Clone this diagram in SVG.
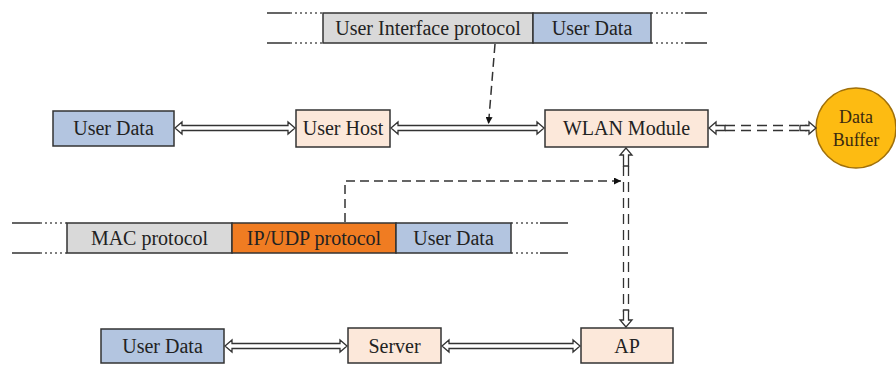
<svg xmlns="http://www.w3.org/2000/svg" width="896" height="365" viewBox="0 0 896 365">
  <defs>
    <style>
      .box { stroke: #333; stroke-width: 1.5; }
      .gray { fill: #D9D9D9; }
      .blue { fill: #B3C5E0; }
      .peach { fill: #FCE8DA; }
      .orange { fill: #F07C22; }
      .lbl { font-family: 'Liberation Serif', 'DejaVu Serif', serif; font-size: 20px; fill: #222; text-anchor: middle; }
      .wire { stroke: #333; stroke-width: 1.5; fill: none; }
      .dots { stroke: #555; stroke-width: 1.5; fill: none; stroke-dasharray: 2 3; }
      .dlink { fill: #fff; stroke: #333; stroke-width: 1.3; stroke-linejoin: miter; }
      .dash { stroke: #333; stroke-width: 1.5; fill: none; stroke-dasharray: 9 5; }
      .ddash { stroke: #333; stroke-width: 1.3; fill: none; stroke-dasharray: 10 6; }
    </style>
    <marker id="tip" viewBox="0 0 10 10" refX="10" refY="5" markerWidth="7" markerHeight="7" orient="auto" markerUnits="userSpaceOnUse">
      <path d="M0,0 L10,5 L0,10 Z" fill="#111"/>
    </marker>
  </defs>
  <rect width="896" height="365" fill="#fff"/>

  <!-- packet: user interface frame -->
  <g id="packet-ui">
    <path class="wire" d="M267,13 H290 M267,43 H290 M685,13 H707 M685,43 H707"/>
    <path class="dots" d="M290,13 H323 M290,43 H323 M651,13 H685 M651,43 H685"/>
    <rect class="box gray" x="323" y="13" width="210" height="30"/>
    <rect class="box blue" x="533" y="13" width="118" height="30"/>
    <text class="lbl" x="428" y="34.5" font-family="Liberation Serif, serif">User Interface protocol</text>
    <text class="lbl" x="592" y="34.5" font-family="Liberation Serif, serif">User Data</text>
  </g>

  <!-- packet: MAC / IP frame -->
  <g id="packet-mac">
    <path class="wire" d="M12,223 H40 M12,253 H40 M540,223 H568 M540,253 H568"/>
    <path class="dots" d="M40,223 H67 M40,253 H67 M511,223 H540 M511,253 H540"/>
    <rect class="box gray" x="67" y="223" width="165" height="30"/>
    <rect class="box orange" x="232" y="223" width="164" height="30"/>
    <rect class="box blue" x="396" y="223" width="115" height="30"/>
    <text class="lbl" x="149.5" y="244.5" font-family="Liberation Serif, serif">MAC protocol</text>
    <text class="lbl" x="314" y="244.5" font-family="Liberation Serif, serif">IP/UDP protocol</text>
    <text class="lbl" x="453.5" y="244.5" font-family="Liberation Serif, serif">User Data</text>
  </g>

  <g id="user-data-top">
    <rect class="box blue" x="53" y="111" width="121" height="35"/>
    <text class="lbl" x="113.5" y="135" font-family="Liberation Serif, serif">User Data</text>
  </g>
  <g id="user-host">
    <rect class="box peach" x="296" y="110" width="94" height="37"/>
    <text class="lbl" x="343" y="135" font-family="Liberation Serif, serif">User Host</text>
  </g>
  <g id="wlan-module">
    <rect class="box peach" x="545" y="110" width="163" height="37"/>
    <text class="lbl" x="626.5" y="135" font-family="Liberation Serif, serif">WLAN Module</text>
  </g>
  <g id="data-buffer">
    <circle cx="856" cy="128" r="40" fill="#FDBB12" stroke="#A0700A" stroke-width="1.5"/>
    <text class="lbl" x="856" y="123" font-family="Liberation Serif, serif" style="font-size:18px;fill:#3a2a10">Data</text>
    <text class="lbl" x="856" y="146" font-family="Liberation Serif, serif" style="font-size:18px;fill:#3a2a10">Buffer</text>
  </g>
  <g id="user-data-bottom">
    <rect class="box blue" x="101" y="329" width="123" height="34"/>
    <text class="lbl" x="162.5" y="352.5" font-family="Liberation Serif, serif">User Data</text>
  </g>
  <g id="server">
    <rect class="box peach" x="348" y="328" width="93" height="35"/>
    <text class="lbl" x="394.5" y="352.5" font-family="Liberation Serif, serif">Server</text>
  </g>
  <g id="ap">
    <rect class="box peach" x="581" y="328" width="92" height="35"/>
    <text class="lbl" x="627" y="352.5" font-family="Liberation Serif, serif">AP</text>
  </g>

  <g id="connectors">
    <!-- double-line links with hollow heads -->
    <path class="dlink" d="M175,128 L182,122 L182,125.5 L288,125.5 L288,122 L295,128 L288,134 L288,130.5 L182,130.5 L182,134 Z"/>
    <path class="dlink" d="M391,128 L398,122 L398,125.5 L537,125.5 L537,122 L544,128 L537,134 L537,130.5 L398,130.5 L398,134 Z"/>
    <path class="dlink" d="M225,346 L232,340 L232,343.5 L340,343.5 L340,340 L347,346 L340,352 L340,348.5 L232,348.5 L232,352 Z"/>
    <path class="dlink" d="M442,346 L449,340 L449,343.5 L573,343.5 L573,340 L580,346 L573,352 L573,348.5 L449,348.5 L449,352 Z"/>

    <!-- dashed double link: WLAN Module to Data Buffer -->
    <path class="ddash" d="M725,125.5 H807 M725,130.5 H807"/>
    <path class="dlink" d="M709,128 L716,122 L716,125.5 L725,125.5 L725,130.5 L716,130.5 L716,134 Z"/>
    <path class="dlink" d="M816,128 L809,122 L809,125.5 L800,125.5 L800,130.5 L809,130.5 L809,134 Z"/>

    <!-- dashed double link: WLAN Module to AP -->
    <path class="ddash" d="M623.5,166 V312 M628.5,166 V312"/>
    <path class="dlink" d="M626,148 L620,155 L623.5,155 L623.5,166 L628.5,166 L628.5,155 L632,155 Z"/>
    <path class="dlink" d="M626,327 L620,320 L623.5,320 L623.5,310 L628.5,310 L628.5,320 L632,320 Z"/>

    <!-- dashed pointers from packet frames -->
    <path class="dash" d="M495,44 L488.5,124" marker-end="url(#tip)"/>
    <path class="dash" d="M345,222 V181 H621" marker-end="url(#tip)"/>
  </g>
</svg>
